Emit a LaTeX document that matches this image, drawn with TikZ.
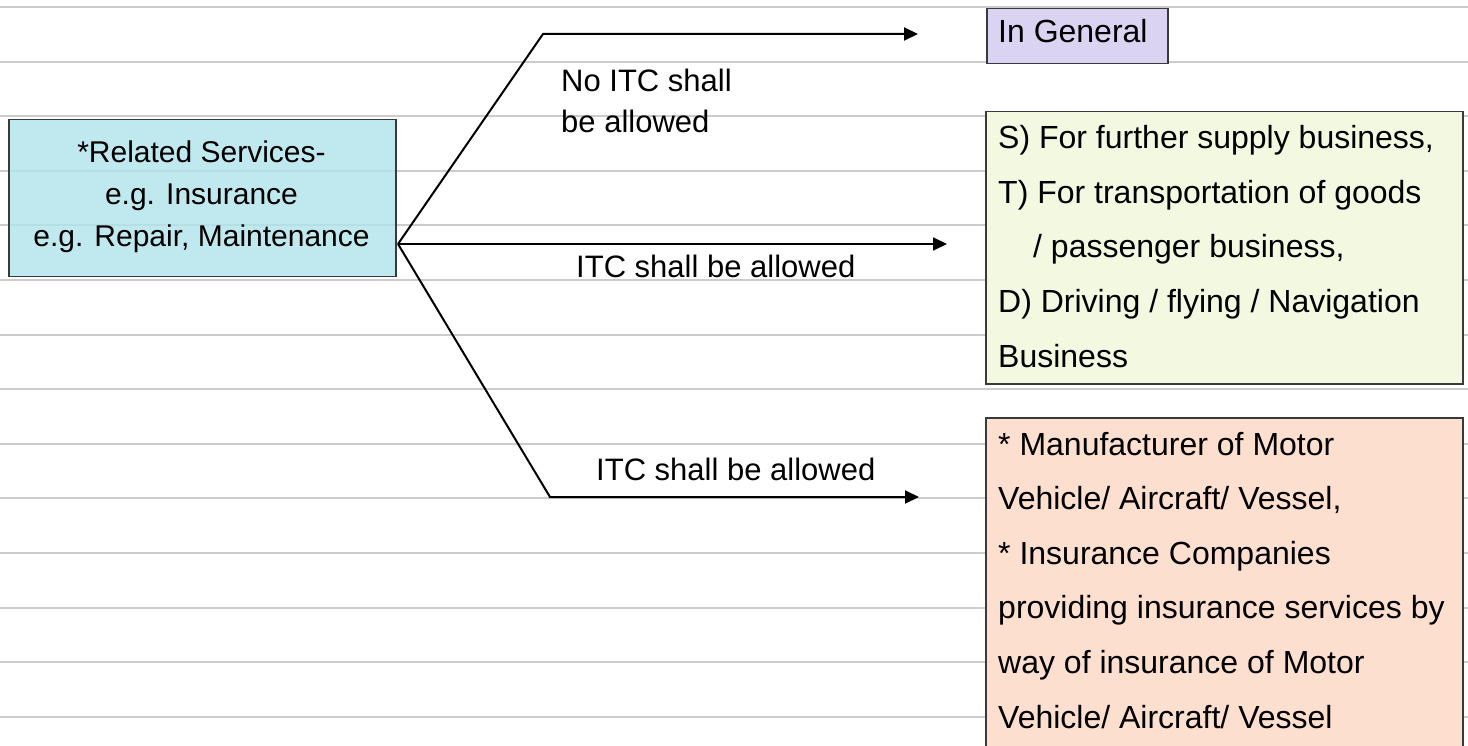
\documentclass[tikz,border=0pt]{standalone}
\usepackage{fontspec}
\setmainfont{Liberation Sans}
\usetikzlibrary{arrows.meta}
\definecolor{rulegrey}{HTML}{CCCCCC}
\definecolor{servfill}{HTML}{B0E4EA}
\definecolor{genfill}{HTML}{DAD4F2}
\definecolor{busfill}{HTML}{F3F9E1}
\definecolor{mfgfill}{HTML}{FDDFCF}
\definecolor{edgegrey}{HTML}{3A3A3A}

\begin{document}
\begin{tikzpicture}[x=1pt,y=-1pt,
  box/.style={draw=edgegrey, line width=1.5pt, anchor=north west, inner sep=0pt},
  boxtext/.style={font=\fontsize{32}{54.6}\selectfont, inner sep=0pt, anchor=base west, align=left},
  lbl/.style={font=\fontsize{31}{41}\selectfont, inner sep=0pt, anchor=base west, align=left},
  flow/.style={line width=2pt, -{Triangle[length=14pt,width=13pt]}, line join=miter}
]
\useasboundingbox (0,0) rectangle (1468,746);
\fill[white] (0,0) rectangle (1468,746);

% ruled paper lines
\foreach \k in {0,...,13}
  \draw[rulegrey, line width=2pt] (0,{7+54.6*\k}) -- (1468,{7+54.6*\k});

% source box (multi-line texts are placed by the baseline of their last line)
\node[box, fill=servfill, fill opacity=0.8, minimum width=387pt, minimum height=157pt] (serv) at (8,119) {};
\node[font=\fontsize{30}{42}\selectfont, align=center, anchor=base, inner sep=0pt] (servtxt) at (201.5,247)
  {*Related Services-\\e.g. Insurance\\e.g. Repair, Maintenance};

% target boxes
\node[box, fill=genfill, minimum width=181pt, minimum height=55pt] (gen) at (986,8) {};
\node[boxtext] (gentxt) at (998,43) {In General};

\node[box, fill=busfill, minimum width=477pt, minimum height=272pt] (bus) at (985,111) {};
\node[boxtext] (bustxt) at (998,367)
  {S) For further supply business,\\
   T) For transportation of goods\\
   \hspace*{35pt}/ passenger business,\\
   D) Driving / flying / Navigation\\
   Business};

\node[box, fill=mfgfill, minimum width=477pt, minimum height=360pt] (mfg) at (985,417) {};
\node[boxtext] (mfgtxt) at (998,728)
  {* Manufacturer of Motor\\
   Vehicle/ Aircraft/ Vessel,\\
   * Insurance Companies\\
   providing insurance services by\\
   way of insurance of Motor\\
   Vehicle/ Aircraft/ Vessel};

% connector points
\coordinate (fork) at (398,244);
\coordinate (upbend) at (543,34);
\coordinate (upend) at (918,34);
\coordinate (midend) at (947,244);
\coordinate (lowbend) at (550,497);
\coordinate (lowend) at (919,497);

\draw[flow] (fork) -- (upbend) -- (upend);
\draw[flow] (fork) -- (midend);
\draw[flow] (fork) -- (lowbend) -- (lowend);

% branch labels
\node[lbl] (nolbl) at (561,133) {No ITC shall\\be allowed};
\node[lbl] (midlbl) at (576,278) {ITC shall be allowed};
\node[lbl] (lowlbl) at (596,480) {ITC shall be allowed};
\end{tikzpicture}
\end{document}
